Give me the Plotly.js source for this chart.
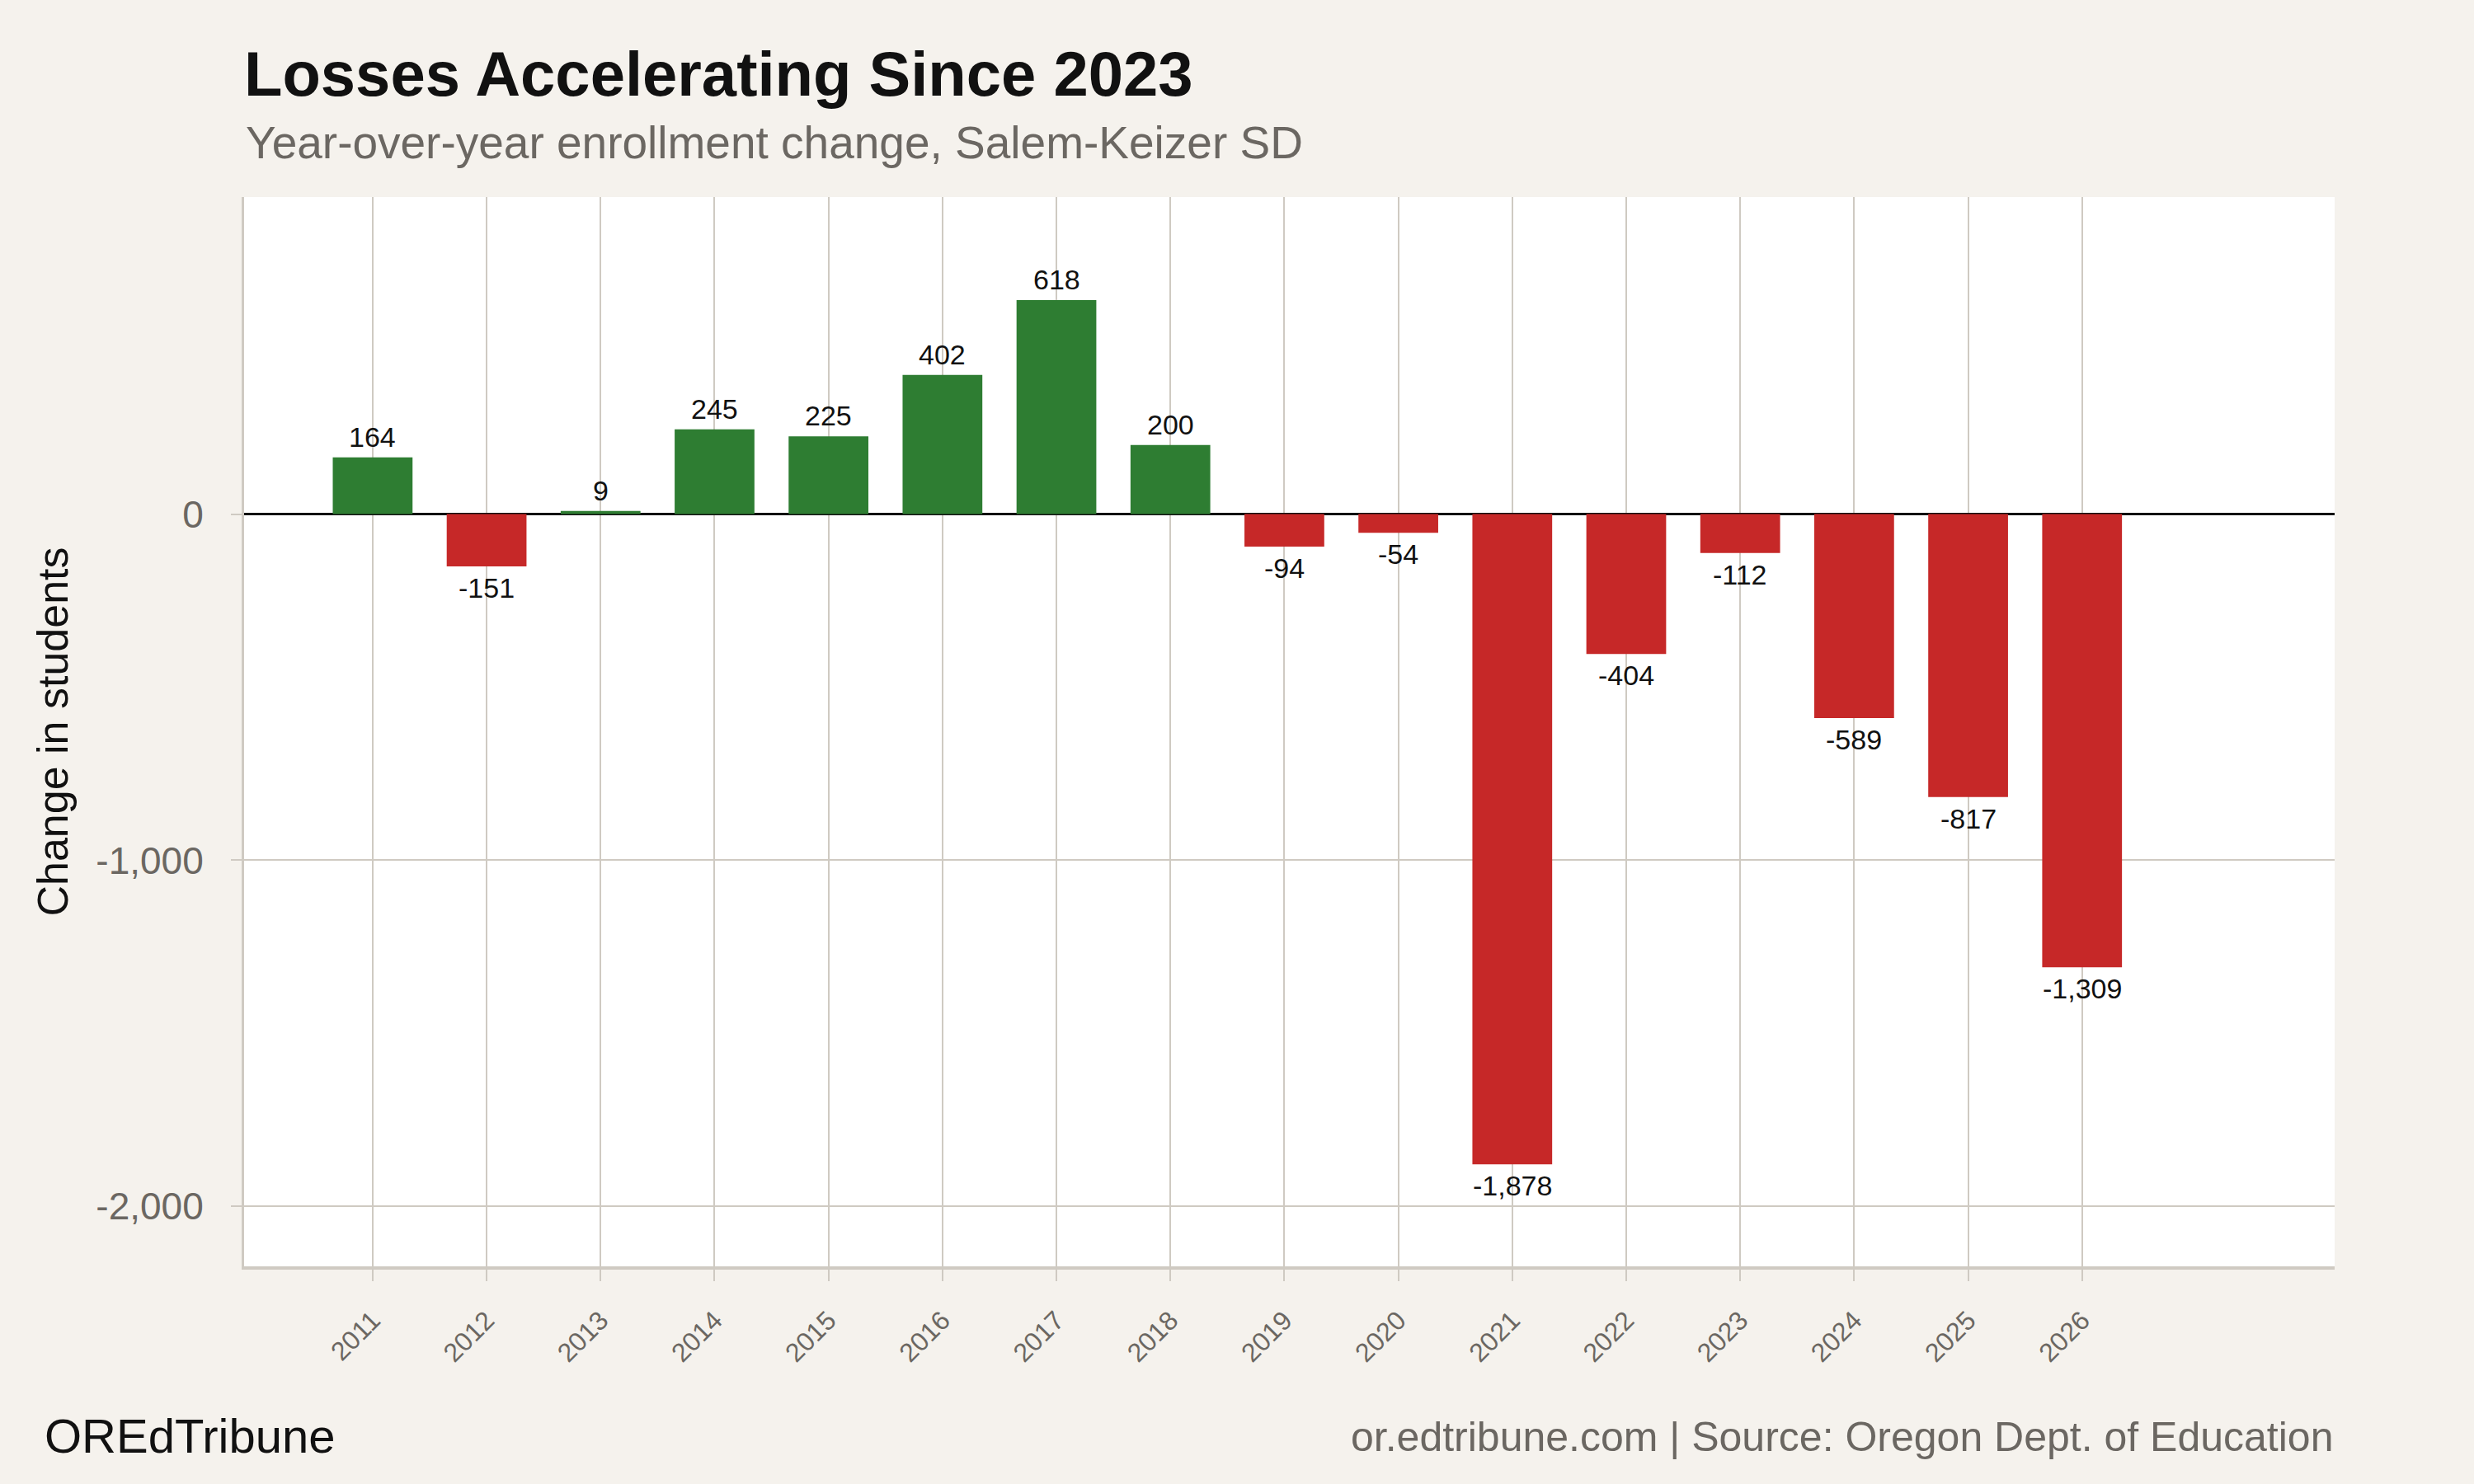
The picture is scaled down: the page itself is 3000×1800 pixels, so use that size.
<!DOCTYPE html>
<html>
<head>
<meta charset="utf-8">
<script src="https://cdn.plot.ly/plotly-3.0.1.min.js"></script>
<style>
  html, body { margin: 0; padding: 0; background: #f5f2ed; }
  #chart { width: 3000px; height: 1800px; }
</style>
</head>
<body>
<div id="chart"></div>
<script>
// ---- data ----
const years = [2011, 2012, 2013, 2014, 2015, 2016, 2017, 2018, 2019, 2020, 2021, 2022, 2023, 2024, 2025, 2026];
const changes = [164, -151, 9, 245, 225, 402, 618, 200, -94, -54, -1878, -404, -112, -589, -817, -1309];
const yTickVals = [-2000, -1000, 0];
const yTickText = ['-2,000', '-1,000', '0'];
const xTickText = years.map(String);

const GREEN = '#2e7d32';
const RED = '#c62828';
const BG = '#f5f2ed';
const GRID = '#cfcac2';
const GREY_TXT = '#6b6762';
const FONT = 'Liberation Sans, Arial, Helvetica, sans-serif';

const fmt = v => (v < 0 ? '-' : '') + Math.abs(v).toLocaleString('en-US');

const trace = {
  type: 'bar',
  x: years,
  y: changes,
  width: 0.7,
  marker: { color: changes.map(v => v >= 0 ? GREEN : RED), line: { width: 0 } },
  hoverinfo: 'x+y'
};

const labelAnns = years.map((yr, i) => ({
  x: yr, y: changes[i], xref: 'x', yref: 'y',
  text: fmt(changes[i]),
  showarrow: false,
  yanchor: changes[i] >= 0 ? 'bottom' : 'top',
  yshift: changes[i] >= 0 ? 4 : -5,
  font: { family: FONT, size: 34, color: '#111111' }
}));

const layout = {
  width: 3000, height: 1800,
  paper_bgcolor: BG,
  plot_bgcolor: '#ffffff',
  margin: { l: 296, r: 169, t: 239, b: 264 },
  showlegend: false,
  title: {
    text: '<b>Losses Accelerating Since 2023</b>',
    font: { family: FONT, size: 76, color: '#111111' },
    x: 296 / 3000, xanchor: 'left', xref: 'container',
    y: 1 - 116 / 1800, yanchor: 'bottom', yref: 'container'
  },
  xaxis: {
    type: 'linear',
    range: [2009.872, 2028.216],
    tickmode: 'array',
    tickvals: years,
    ticktext: xTickText,
    tickangle: -45,
    tickfont: { family: FONT, size: 32, color: GREY_TXT },
    showgrid: true, gridcolor: GRID, gridwidth: 2,
    ticks: 'outside', ticklen: 14, tickwidth: 2, tickcolor: GRID,
    ticklabelstandoff: 16,
    showline: true, linecolor: GRID, linewidth: 4,
    zeroline: false, fixedrange: true
  },
  yaxis: {
    range: [-2173, 916],
    tickmode: 'array',
    tickvals: yTickVals,
    ticktext: yTickText,
    tickfont: { family: FONT, size: 46, color: GREY_TXT },
    showgrid: true, gridcolor: GRID, gridwidth: 2,
    ticks: 'outside', ticklen: 13, tickwidth: 2, tickcolor: GRID,
    ticklabelstandoff: 24,
    showline: true, linecolor: GRID, linewidth: 3,
    zeroline: true, zerolinecolor: '#111111', zerolinewidth: 3,
    title: { text: 'Change in students', font: { family: FONT, size: 52, color: '#111111' }, standoff: 18 },
    fixedrange: true
  },
  annotations: [
    {
      text: 'Year-over-year enrollment change, Salem-Keizer SD',
      xref: 'paper', yref: 'paper', x: 0, y: 1 + (239 - 206) / 1297,
      xanchor: 'left', yanchor: 'bottom', showarrow: false,
      font: { family: FONT, size: 55, color: GREY_TXT }
    },
    {
      text: 'OREdTribune',
      xref: 'paper', yref: 'paper', x: (52 - 296) / 2535, y: -(1776 - 1536) / 1297,
      xanchor: 'left', yanchor: 'bottom', showarrow: false,
      font: { family: FONT, size: 58, color: '#111111' }
    },
    {
      text: 'or.edtribune.com | Source: Oregon Dept. of Education',
      xref: 'paper', yref: 'paper', x: 1, y: -(1773 - 1536) / 1297,
      xanchor: 'right', yanchor: 'bottom', showarrow: false,
      font: { family: FONT, size: 50, color: GREY_TXT }
    }
  ].concat(labelAnns),
  bargap: 0.3
};

Plotly.newPlot('chart', [trace], layout, { staticPlot: true, displayModeBar: false });
</script>
</body>
</html>
